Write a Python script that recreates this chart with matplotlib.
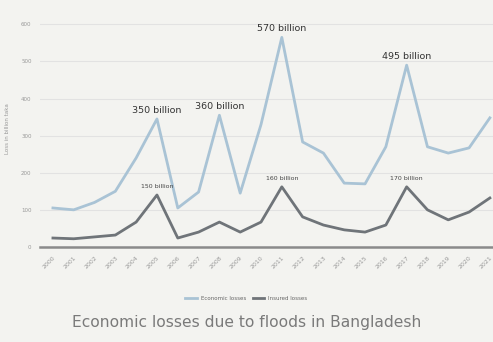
import numpy as np
import matplotlib.pyplot as plt

years = [str(y) for y in range(2000, 2022)]
economic = [105, 100, 120, 150, 240, 345, 105, 148, 355, 145, 330, 565,
            283, 253, 172, 170, 270, 490, 270, 253, 267, 348]
insured = [24, 22, 27, 32, 67, 140, 24, 40, 67, 40, 67, 162,
           81, 59, 46, 40, 59, 162, 100, 73, 94, 132]
yticks = [0, 100, 200, 300, 400, 500, 600]

# peak labels: (index, text)
econ_notes = [(5, '350 billion'), (8, '360 billion'), (11, '570 billion'), (17, '495 billion')]
ins_notes = [(5, '150 billion'), (11, '160 billion'), (17, '170 billion')]

bg = '#f3f3f0'
fig = plt.figure(figsize=(4.93, 3.42), dpi=100, facecolor=bg)
ax = fig.add_axes([0.081, 0.278, 0.919, 0.693], facecolor=bg)

x = np.arange(len(years))
ax.plot(x, economic, color='#a9c3d5', lw=2.0, label='Economic losses')
ax.plot(x, insured, color='#6f7479', lw=2.0, label='Insured losses')

for i, t in econ_notes:
    ax.annotate(t, (x[i], economic[i]), xytext=(0, 3), textcoords='offset points',
                ha='center', va='bottom', fontsize=6.8, color='#333333')
for i, t in ins_notes:
    ax.annotate(t, (x[i], insured[i]), xytext=(0, 4), textcoords='offset points',
                ha='center', va='bottom', fontsize=4.5, color='#444444')

ax.set_xlim(-0.625, 21.15)
ax.set_ylim(0, 639)
ax.set_yticks(yticks)
ax.set_yticklabels([str(v) for v in yticks], fontsize=4, color='#999999')
ax.set_xticks(x)
ax.set_xticklabels(years, rotation=45, fontsize=4.5, color='#999999', ha='right', rotation_mode='anchor')
ax.tick_params(length=0, pad=6)
ax.grid(axis='y', color='#e2e2e2', lw=0.8)
ax.set_axisbelow(True)
for s in ['top', 'right', 'left']:
    ax.spines[s].set_visible(False)
ax.spines['bottom'].set_color('#8a8a8a')
ax.spines['bottom'].set_linewidth(1.8)
ax.set_ylabel('Loss in billion taka', fontsize=4, color='#999999', labelpad=8)

fig.legend(loc='center', bbox_to_anchor=(0.5, 1 - 298 / 342), ncol=2, frameon=False,
           fontsize=4, labelcolor='#666666', handlelength=2, columnspacing=1.2)
fig.text(0.5, 1 - 322 / 342, 'Economic losses due to floods in Bangladesh',
         ha='center', va='center', fontsize=11.2, color='#7a7a7a')

fig.savefig('out.png', dpi=100, facecolor=bg)
